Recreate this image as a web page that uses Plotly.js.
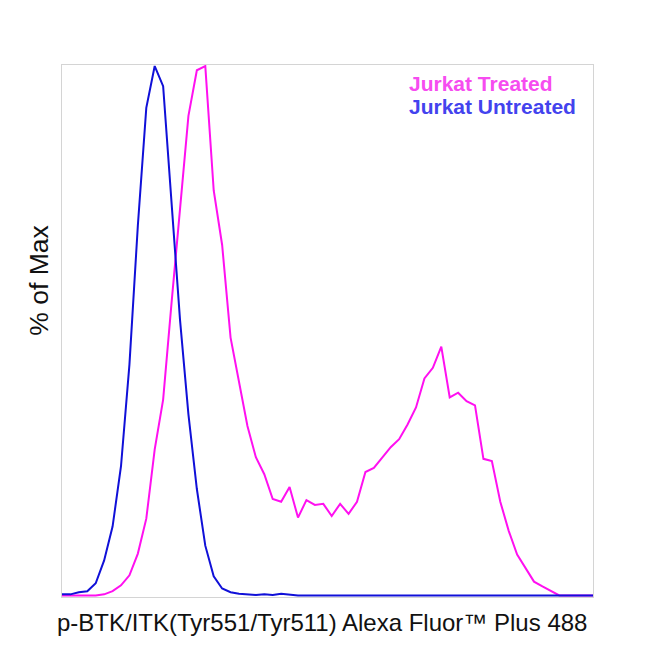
<!DOCTYPE html>
<html>
<head>
<meta charset="utf-8">
<script src="https://cdn.plot.ly/plotly-3.0.1.min.js"></script>
<style>html,body{margin:0;padding:0;background:#fff;}#chart{width:650px;height:650px;}</style>
</head>
<body>
<div id="chart"></div>
<script>
// Channel bins (0..63) across the fluorescence axis
const bins = Array.from({length: 64}, (_, i) => i);

const seriesNames = ["Jurkat Treated", "Jurkat Untreated"];

// % of Max, Jurkat Treated
const treated = [
  0, 0, 0, 0, 0, 0.2, 0.8, 1.9, 3.8, 7.9,
  14.5, 27.6, 37.0, 55.3, 72.7, 90.6, 99.2, 100, 76.5, 66.2,
  48.7, 40.2, 32.0, 26.1, 22.9, 18.2, 17.7, 20.5, 14.7, 18.0,
  17.1, 17.3, 15.0, 17.3, 15.4, 17.7, 23.3, 24.1, 26.1, 28.0,
  29.5, 32.3, 35.5, 41.0, 43.0, 47.0, 37.4, 38.3, 36.7, 35.9,
  25.8, 25.4, 17.7, 12.2, 7.7, 5.1, 2.6, 1.7, 0.8, 0,
  0, 0, 0, 0
];

// % of Max, Jurkat Untreated
const untreated = [
  0.2, 0.2, 0.6, 0.8, 2.3, 6.6, 13.0, 24.4, 43.6, 69.9,
  92.1, 100, 96.2, 73.7, 52.1, 34.2, 20.1, 9.4, 3.6, 1.3,
  0.6, 0.3, 0.2, 0.1, 0.2, 0.1, 0.3, 0.1, 0, 0,
  0, 0, 0, 0, 0, 0, 0, 0, 0, 0,
  0, 0, 0, 0, 0, 0.1, 0, 0, 0, 0,
  0, 0, 0, 0, 0, 0, 0, 0, 0, 0,
  0, 0, 0, 0
];

const xTitle = "p-BTK/ITK(Tyr551/Tyr511) Alexa Fluor™ Plus 488";
const yTitle = "% of Max";

const traces = [
  {x: bins, y: treated, name: seriesNames[0], type: "scatter", mode: "lines",
   line: {color: "#ff10f0", width: 2}},
  {x: bins, y: untreated, name: seriesNames[1], type: "scatter", mode: "lines",
   line: {color: "#1010d8", width: 2}}
];

const fam = "Liberation Sans, Arial, sans-serif";

const layout = {
  width: 650, height: 650,
  margin: {l: 62, r: 57, t: 65, b: 53},
  paper_bgcolor: "#ffffff", plot_bgcolor: "#ffffff",
  showlegend: false,
  font: {family: fam, color: "#000"},
  xaxis: {
    range: [0, 63], showgrid: false, zeroline: false, showticklabels: false, ticks: "",
    showline: true, mirror: true, linecolor: "#d4d4d4", linewidth: 1
  },
  yaxis: {
    range: [-0.3, 100.2], showgrid: false, zeroline: false, showticklabels: false, ticks: "",
    showline: true, mirror: true, linecolor: "#d4d4d4", linewidth: 1
  },
  annotations: [
    {xref: "paper", yref: "paper", x: 0.49, y: -0.047, xanchor: "center", yanchor: "middle",
     text: xTitle, showarrow: false, font: {size: 24, color: "#111", family: fam}},
    {xref: "paper", yref: "paper", x: -0.043, y: 0.595, xanchor: "center", yanchor: "middle",
     text: yTitle, showarrow: false, textangle: -90, font: {size: 26.5, color: "#111", family: fam}},
    {xref: "paper", yref: "paper", x: 0.650, y: 0.966, xanchor: "left", yanchor: "middle",
     text: "<b>" + seriesNames[0] + "</b>", showarrow: false,
     font: {size: 21, color: "#f64cf0", family: fam}},
    {xref: "paper", yref: "paper", x: 0.650, y: 0.922, xanchor: "left", yanchor: "middle",
     text: "<b>" + seriesNames[1] + "</b>", showarrow: false,
     font: {size: 21, color: "#4343ee", family: fam}}
  ]
};

Plotly.newPlot("chart", traces, layout, {staticPlot: true, displayModeBar: false});
</script>
</body>
</html>
